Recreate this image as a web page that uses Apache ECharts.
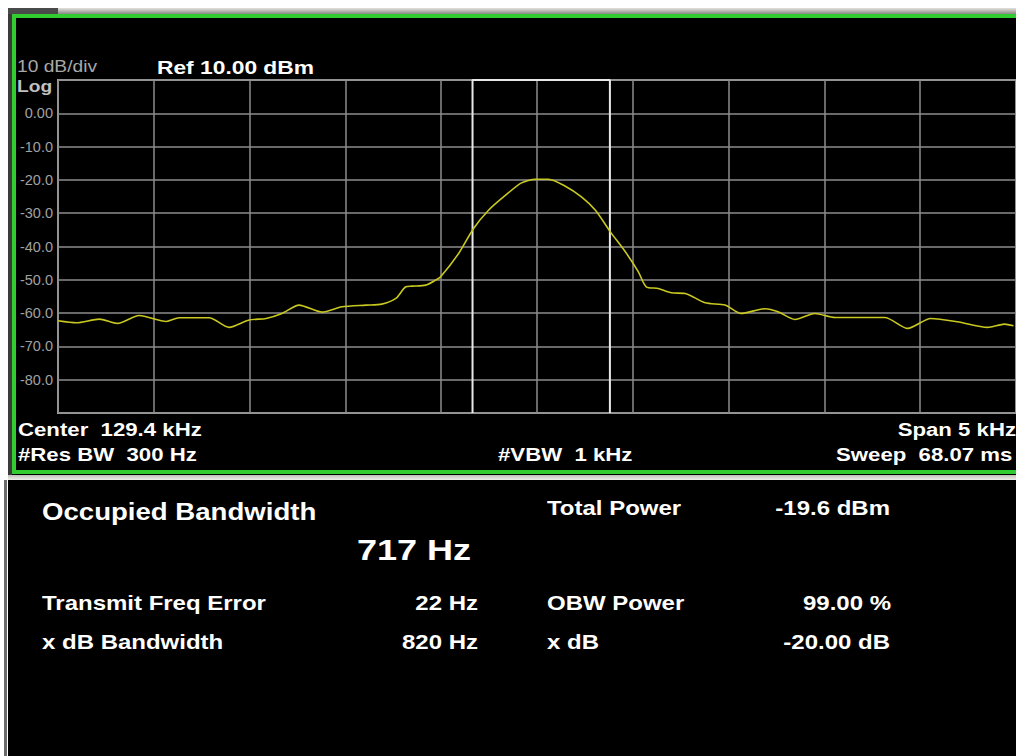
<!DOCTYPE html>
<html>
<head>
<meta charset="utf-8">
<script src="https://cdn.jsdelivr.net/npm/echarts@6/dist/echarts.min.js"></script>
<style>
html,body{margin:0;padding:0;background:#ffffff;}
#chart{width:1016px;height:756px;}
</style>
</head>
<body>
<div id="chart"></div>
<script>
// ---- data ----
// frequency offset from centre (Hz), centre = 129.4 kHz, span 5 kHz
const freqOffsetHz = [-2500,-2404,-2284,-2190,-2076,-1935,-1867,-1711,-1607,-1503,-1414,-1331,-1242,-1122,-1018,-893,-810,-737,-685,-654,-581,-529,-503,-409,-331,-253,-164,-81,-8,60,148,232,305,383,461,529,570,633,701,773,878,982,1065,1190,1258,1346,1450,1555,1815,1935,2055,2195,2352,2440,2487];
const traceDbm = [-62.3,-62.9,-61.8,-63.1,-60.7,-62.5,-61.4,-61.4,-64.3,-62.1,-61.6,-60.1,-57.6,-59.7,-58.1,-57.6,-57.3,-55.6,-52.1,-51.9,-51.6,-50.1,-49.1,-42.1,-34.6,-29.1,-24.6,-20.9,-19.8,-19.8,-21.9,-25.1,-29.1,-35.6,-41.6,-47.6,-52.1,-52.6,-53.9,-54.1,-56.9,-57.6,-60.1,-58.7,-59.6,-61.9,-60.1,-61.3,-61.3,-64.6,-61.6,-62.6,-64.3,-63.3,-63.8];
const obwEdgesHz = [-336.5, 380.5];
const yTickValues = [0,-10,-20,-30,-40,-50,-60,-70,-80];
const yTickLabels = ['0.00','-10.0','-20.0','-30.0','-40.0','-50.0','-60.0','-70.0','-80.0'];
const refLevel = 10, bottomLevel = -90;

const chart = echarts.init(document.getElementById('chart'), null, {renderer:'svg'});

const SX = 1.2;
function txt(x, y, text, font, fill, align, sx){
  return {type:'text', x:x, y:y, scaleX: sx||SX, z:10,
    style:{x:0,y:0,text:text,font:font,fill:fill,textAlign:align||'left',textVerticalAlign:'middle'}};
}
const F = '"Liberation Sans", Arial, sans-serif';

const graphics = [
  // backgrounds / frames
  {type:'rect', z:-100, shape:{x:8,y:8,width:1010,height:750}, style:{fill:'#000000'}},
  {type:'rect', z:-99, shape:{x:8,y:8,width:1010,height:6}, style:{fill:new echarts.graphic.LinearGradient(0,0,0,1,[{offset:0,color:'#e4e2dc'},{offset:1,color:'#8a8a86'}])}},
  {type:'rect', z:-98, shape:{x:8,y:8,width:50,height:6}, style:{fill:'#4a4a4a'}},
  {type:'rect', z:-99, shape:{x:8,y:14,width:4,height:462}, style:{fill:'#3a3a3a'}},
  {type:'rect', z:-97, shape:{x:14,y:16,width:1012,height:456}, style:{fill:'#000000', stroke:'#30cc30', lineWidth:4}},
  {type:'rect', z:-97, shape:{x:8,y:475,width:1010,height:5}, style:{fill:new echarts.graphic.LinearGradient(0,0,0,1,[{offset:0,color:'#bfc0b8'},{offset:1,color:'#f0f0ea'}])}},
  {type:'rect', z:-97, shape:{x:4,y:480,width:3,height:276}, style:{fill:'#6a6a6a'}},
  // upper panel annotations
  txt(17, 67, '10 dB/div', '16px '+F, '#a8a8a8'),
  txt(157, 67, 'Ref 10.00 dBm', 'bold 19px '+F, '#ffffff'),
  txt(17, 87, 'Log', 'bold 16px '+F, '#c0c0c0'),
  txt(18, 430, 'Center  129.4 kHz', 'bold 18.5px '+F, '#ffffff'),
  txt(18, 455, '#Res BW  300 Hz', 'bold 18.5px '+F, '#ffffff'),
  txt(498, 455, '#VBW  1 kHz', 'bold 18.5px '+F, '#ffffff'),
  txt(1016, 430, 'Span 5 kHz', 'bold 18.5px '+F, '#ffffff', 'right'),
  txt(836, 455, 'Sweep  68.07 ms', 'bold 18.5px '+F, '#ffffff'),
  // lower panel results
  txt(42, 512, 'Occupied Bandwidth', 'bold 23px '+F, '#ffffff'),
  txt(357, 550, '717 Hz', 'bold 30px '+F, '#ffffff'),
  txt(547, 508, 'Total Power', 'bold 20px '+F, '#ffffff'),
  txt(890, 508, '-19.6 dBm', 'bold 20px '+F, '#ffffff', 'right'),
  txt(42, 603, 'Transmit Freq Error', 'bold 20px '+F, '#ffffff'),
  txt(478, 603, '22 Hz', 'bold 20px '+F, '#ffffff', 'right'),
  txt(547, 603, 'OBW Power', 'bold 20px '+F, '#ffffff'),
  txt(891, 603, '99.00 %', 'bold 20px '+F, '#ffffff', 'right'),
  txt(42, 642, 'x dB Bandwidth', 'bold 20px '+F, '#ffffff'),
  txt(478, 642, '820 Hz', 'bold 20px '+F, '#ffffff', 'right'),
  txt(547, 642, 'x dB', 'bold 20px '+F, '#ffffff'),
  txt(890, 642, '-20.00 dB', 'bold 20px '+F, '#ffffff', 'right')
];

const option = {
  backgroundColor: '#ffffff',
  animation: false,
  grid: {left:58, top:80, width:960, height:333, show:true, borderColor:'#a8a8a8', borderWidth:2, backgroundColor:'transparent'},
  xAxis: {type:'value', min:-2500, max:2500, interval:500,
    axisLine:{show:false}, axisTick:{show:false}, axisLabel:{show:false},
    splitLine:{show:true, lineStyle:{color:'#8c8c8c', width:1.5}}},
  yAxis: {type:'value', min:bottomLevel, max:refLevel, interval:10,
    axisLine:{show:false}, axisTick:{show:false},
    axisLabel:{margin:5, color:'#a0a0a0', fontFamily:'"Liberation Sans", Arial, sans-serif', fontSize:14.5,
      formatter:function(v){ const i = yTickValues.indexOf(v); return i>=0 ? yTickLabels[i] : ''; }},
    splitLine:{show:true, lineStyle:{color:'#8c8c8c', width:1.5}}},
  series: [
    {type:'line', name:'OBW', data:[[obwEdgesHz[0],bottomLevel],[obwEdgesHz[0],refLevel],[obwEdgesHz[1],refLevel],[obwEdgesHz[1],bottomLevel]],
      showSymbol:false, lineStyle:{color:'#e8e8e8', width:2}, z:3, silent:true},
    {type:'line', name:'Trace', data:freqOffsetHz.map((f,i)=>[f, traceDbm[i]]),
      showSymbol:false, smooth:0.25, lineStyle:{color:'#c8c820', width:1.6}, z:4}
  ],
  graphic: graphics
};
chart.setOption(option);
</script>
</body>
</html>
